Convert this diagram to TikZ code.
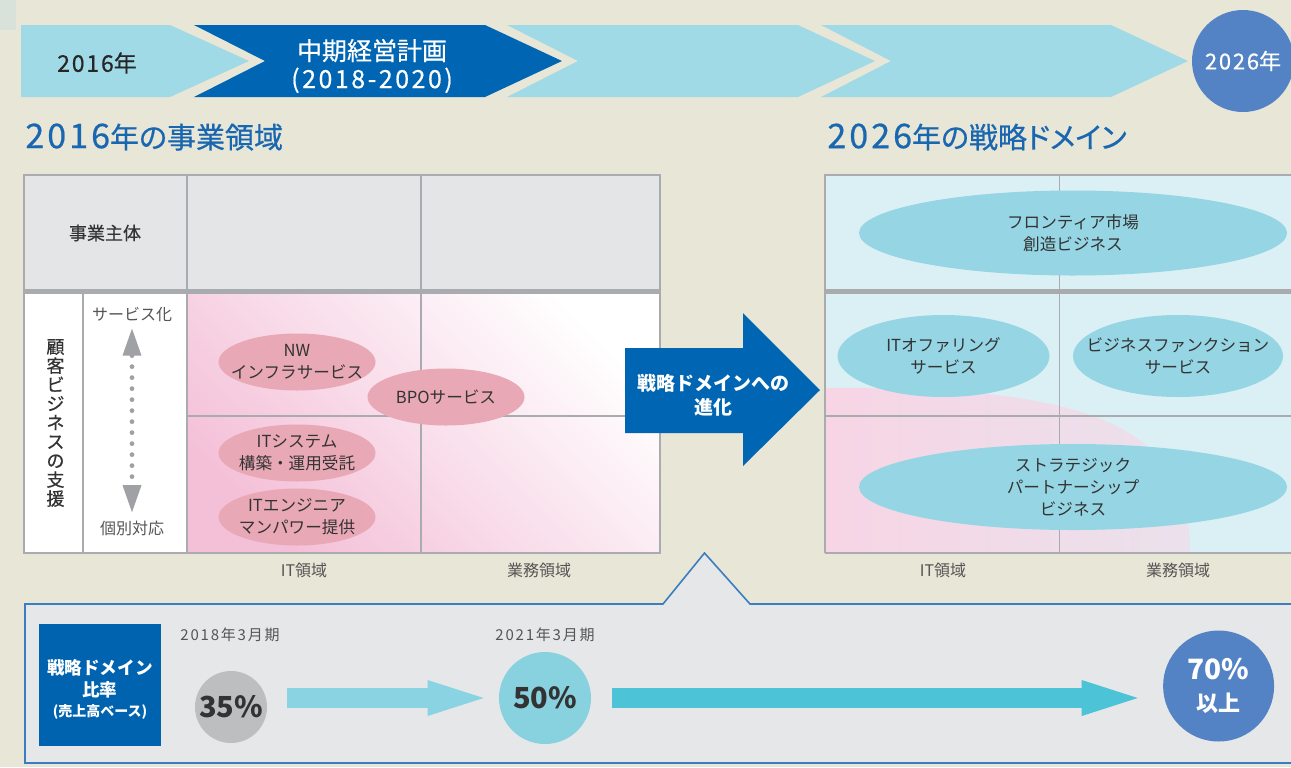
\documentclass[tikz,border=0pt]{standalone}
\usepackage{fontspec}
\setmainfont{Noto Sans CJK JP}
\newfontfamily\mediumfont{Noto Sans CJK JP}[FakeBold=0.5]
\newfontfamily\titlefont{Noto Sans CJK JP}[FakeBold=0.6, RawFeature=+palt]
\newcommand\widedigits[2]{{\addfontfeature{LetterSpace=#1}#2}}
\newcommand\titledigits[1]{{\fontsize{17pt}{17pt}\selectfont\addfontfeature{LetterSpace=9}#1}}
\usepackage{tikz}
\usetikzlibrary{shapes.geometric,arrows.meta}

\definecolor{bgbeige}{HTML}{E8E6D6}
\definecolor{cornertint}{HTML}{D8E1DA}
\definecolor{chevlight}{HTML}{A0DAE6}
\definecolor{chevdark}{HTML}{0065B2}
\definecolor{titleblue}{HTML}{1A67B1}
\definecolor{headgray}{HTML}{E4E5E7}
\definecolor{gridgray}{HTML}{A9ABAE}
\definecolor{ovalpink}{HTML}{E9A8B5}
\definecolor{shadepink}{HTML}{F4C0D8}
\definecolor{cyanbg}{HTML}{DBF0F4}
\definecolor{ovalcyan}{HTML}{96D5E4}
\definecolor{blobpink}{HTML}{F7D5E5}
\definecolor{panelgray}{HTML}{E6E7E9}
\definecolor{panelline}{HTML}{3A7DC0}
\definecolor{boxblue}{HTML}{0063AF}
\definecolor{gray35}{HTML}{BDBEC0}
\definecolor{cyan50}{HTML}{88D2E0}
\definecolor{arrowlight}{HTML}{8AD3E2}
\definecolor{arrowdark}{HTML}{4CC3D6}
\definecolor{blue70}{HTML}{5383C4}
\definecolor{textdark}{HTML}{333333}
\definecolor{labelgray}{HTML}{555555}
\definecolor{dotgray}{HTML}{A0A1A4}

\begin{document}
\begin{tikzpicture}[x=0.5pt, y=-0.5pt,
    oval/.style={shape=ellipse, inner xsep=-45pt, inner ysep=-25pt, align=center, text=textdark, font=\fontsize{8.3pt}{11pt}\selectfont},
    pinkoval/.style={oval, fill=ovalpink, minimum width=78.5pt, minimum height=28.5pt},
    cyanoval/.style={oval, fill=ovalcyan},
    axislabel/.style={text=labelgray, inner sep=0pt, font=\fontsize{8pt}{10pt}\selectfont},
    gridline/.style={draw=gridgray, line width=0.6pt},
    headline/.style={draw=gridgray, line width=2.5pt},
    ratecircle/.style={shape=circle, inner sep=0pt, align=center, text=textdark, font=\bfseries\fontsize{14.5pt}{15pt}\selectfont},
    flowarrow/.style={line width=10pt, -{Triangle[length=28pt, width=18pt, line width=0pt]}},
  ]
  \clip (0,0) rectangle (1291,767);
  \useasboundingbox (0,0) rectangle (1291,767);
  \fill[bgbeige] (0,0) rectangle (1291,767);
  \fill[cornertint] (0,0) rectangle (16,30);

  % time band
  \fill[chevlight] (21,25) -- (170,25) -- (249,61) -- (170,97) -- (21,97) -- cycle;
  \fill[chevdark] (194,25) -- (485,25) -- (562,61) -- (485,97) -- (194,97) -- (265,61) -- cycle;
  \fill[chevlight] (507,25) -- (798,25) -- (875,61) -- (798,97) -- (507,97) -- (578,61) -- cycle;
  \fill[chevlight] (821,25) -- (1111,25) -- (1188,61) -- (1111,97) -- (821,97) -- (891,61) -- cycle;
  \node[text=black!85, font=\mediumfont\fontsize{11.5pt}{12pt}\selectfont] (y2016) at (97,63) {\widedigits{8}{2016}年};
  \node[text=white, align=center, font=\mediumfont\fontsize{12.5pt}{14pt}\selectfont] (plan) at (372,66) {中期経営計画\\\widedigits{10}{(2018-2020)}};
  \node[shape=circle, fill=blue70, minimum size=51pt, inner sep=0pt, text=white, font=\mediumfont\fontsize{11pt}{12pt}\selectfont] (y2026) at (1243,61) {\widedigits{8}{2026}年};

  % titles
  \node[anchor=west, text=titleblue, inner sep=0pt, font=\titlefont\fontsize{14.5pt}{16pt}\selectfont] (title16) at (25,137) {\titledigits{2016}年の事業領域};
  \node[anchor=west, text=titleblue, inner sep=0pt, font=\titlefont\fontsize{14.5pt}{16pt}\selectfont] (title26) at (827,137) {\titledigits{2026}年の戦略ドメイン};

  % left table
  \fill[headgray] (24,175) rectangle (660,291);
  \fill[white] (24,291) rectangle (660,553);
  \shade[bottom color=shadepink, middle color=white, top color=white, shading angle=-45] (187,291) rectangle (660,553);
  \draw[gridline] (24,175) rectangle (660,553);
  \draw[gridline] (187,175) -- (187,553);
  \draw[gridline] (421,175) -- (421,553);
  \draw[gridline] (83,291) -- (83,553);
  \draw[gridline] (187,416) -- (660,416);
  \draw[headline] (24,291) -- (660,291);

  \node[text=textdark, font=\mediumfont\fontsize{9pt}{10pt}\selectfont] (subject) at (105,233) {事業主体};
  \node[text=textdark, align=center, font=\mediumfont\fontsize{9pt}{9.5pt}\selectfont] (support) at (55.5,423) {顧\\客\\ビ\\ジ\\ネ\\ス\\の\\支\\援};
  \node[axislabel] (servtext) at (132,315) {サービス化};
  \node[axislabel] (indivtext) at (132,528) {個別対応};
  \draw[dotgray, line width=2.4pt, line cap=round, dash pattern=on 0pt off 5.5pt,
        {Triangle[length=13.5pt, width=9.5pt, line width=0pt]}-{Triangle[length=13.5pt, width=9.5pt, line width=0pt]},
        shorten <=3pt, shorten >=4pt] (servtext) -- (indivtext);

  \node[pinkoval] (nwinfra) at (297,362) {NW\\インフラサービス};
  \node[pinkoval] (bpo) at (446,397) {BPOサービス};
  \node[pinkoval] (itsys) at (297,453) {ITシステム\\構築・運用受託};
  \node[pinkoval] (iteng) at (297,517) {ITエンジニア\\マンパワー提供};

  \node[axislabel] (itleft) at (304,570) {IT領域};
  \node[axislabel] (bizleft) at (539,570) {業務領域};

  % right table
  \fill[cyanbg] (825,175) rectangle (1300,553);
  \shade[left color=blobpink, right color=blobpink!55!cyanbg] (825,388) .. controls (1100,385) and (1190,430) .. (1190,553) -- (825,553) -- cycle;
  \draw[gridline] (825,553) -- (825,175) -- (1300,175);
  \draw[gridline] (825,553) -- (1300,553);
  \draw[gridline] (1059.5,175) -- (1059.5,553);
  \draw[gridline] (825,416) -- (1300,416);
  \draw[headline] (825,291) -- (1300,291);

  \node[cyanoval, minimum width=214pt, minimum height=42.5pt] (frontier) at (1073,233) {フロンティア市場\\創造ビジネス};
  \node[cyanoval, minimum width=106pt, minimum height=41pt] (itoffer) at (943.5,356) {ITオファリング\\サービス};
  \node[cyanoval, minimum width=105pt, minimum height=41pt] (bizfunc) at (1178,356) {ビジネスファンクション\\サービス};
  \node[cyanoval, minimum width=214pt, minimum height=43pt] (partner) at (1073,487) {ストラテジック\\パートナーシップ\\ビジネス};

  \node[axislabel] (itright) at (943,570) {IT領域};
  \node[axislabel] (bizright) at (1178,570) {業務領域};

  % evolution arrow
  \fill[chevdark] (625,348) -- (743,348) -- (743,313) -- (820,390) -- (743,466) -- (743,433) -- (625,433) -- cycle;
  \node[text=white, align=center, font=\bfseries\fontsize{9.5pt}{12pt}\selectfont] (evolve) at (713,395) {戦略ドメインへの\\進化};

  % ratio panel
  \filldraw[fill=panelgray, draw=panelline, line width=0.8pt] (25,604) -- (663,604) -- (704.5,553) -- (750,604) -- (1300,604) -- (1300,763) -- (25,763) -- cycle;
  \fill[boxblue] (39,624) rectangle (161,746);
  \node[text=white, align=center, font=\bfseries\fontsize{8.8pt}{11pt}\selectfont] (ratio) at (100,679) {戦略ドメイン\\比率};
  \node[text=white, font=\bfseries\fontsize{7pt}{8pt}\selectfont] (ratiobase) at (100,712) {(売上高ベース)};

  \node[text=labelgray, font=\fontsize{7.5pt}{8pt}\selectfont] (fy2018) at (230,635) {\widedigits{12}{2018年3月期}};
  \node[text=labelgray, font=\fontsize{7.5pt}{8pt}\selectfont] (fy2021) at (545,635) {\widedigits{12}{2021年3月期}};

  \node[ratecircle, fill=gray35, minimum size=36pt] (c35) at (231,707) {35\%};
  \node[ratecircle, fill=cyan50, minimum size=46pt] (c50) at (545,698) {50\%};
  \node[ratecircle, fill=blue70, minimum size=55.5pt, text=white, font=\bfseries\fontsize{14pt}{16pt}\selectfont] (c70) at (1218.6,686) {70\%\\{\fontsize{11pt}{12pt}\selectfont 以上}};

  \draw[flowarrow, arrowlight, shorten <=10pt, shorten >=7.5pt] (c35.east |- c50.west) -- (c50.west);
  \draw[flowarrow, arrowdark, shorten <=10.5pt, shorten >=12.5pt] (c50.east) -- (c50.east -| c70.west);
\end{tikzpicture}
\end{document}
